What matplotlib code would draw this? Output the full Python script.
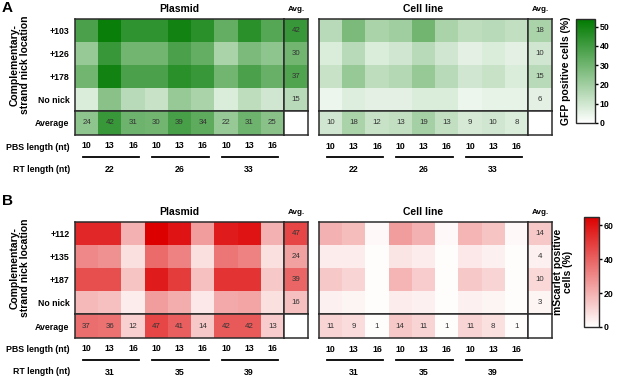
import numpy as np
import matplotlib
matplotlib.use("Agg")
import matplotlib.pyplot as plt
from matplotlib.colors import LinearSegmentedColormap

plt.rcParams['font.family'] = ['Liberation Sans', 'DejaVu Sans']

# ---- data ----
pbs_lengths = ["10", "13", "16"] * 3

gfp_rows = ["+103", "+126", "+178", "No nick"]
gfp_rt = ["22", "26", "33"]
gfp_plasmid = [[38, 52, 44, 44, 50, 45, 33, 45, 36],
               [22, 42, 30, 30, 38, 33, 18, 28, 24],
               [30, 50, 38, 38, 45, 42, 30, 38, 32],
               [8, 25, 15, 12, 22, 18, 8, 14, 10]]
gfp_plasmid_row_avg = [42, 30, 37, 15]
gfp_plasmid_col_avg = [24, 42, 31, 30, 39, 34, 22, 31, 25]
gfp_cell = [[15, 28, 18, 20, 30, 18, 14, 15, 13],
            [8, 15, 8, 10, 15, 10, 6, 8, 6],
            [12, 22, 14, 16, 22, 15, 10, 12, 8],
            [4, 7, 6, 6, 8, 8, 4, 5, 5]]
gfp_cell_row_avg = [18, 10, 15, 6]
gfp_cell_col_avg = [10, 18, 12, 13, 19, 13, 9, 10, 8]

msc_rows = ["+112", "+135", "+187", "No nick"]
msc_rt = ["31", "35", "39"]
msc_plasmid = [[55, 55, 20, 65, 60, 25, 58, 60, 20],
               [30, 28, 8, 38, 32, 8, 35, 32, 8],
               [45, 45, 15, 58, 50, 16, 52, 52, 14],
               [18, 16, 5, 25, 21, 6, 22, 23, 8]]
msc_plasmid_row_avg = [47, 24, 39, 16]
msc_plasmid_col_avg = [37, 36, 12, 47, 41, 14, 42, 42, 13]
msc_cell = [[20, 17, 2, 25, 20, 2, 19, 15, 2],
            [5, 5, 1, 7, 5, 1, 6, 4, 1],
            [14, 11, 1, 19, 13, 1, 14, 11, 1],
            [4, 3, 1, 5, 4, 1, 4, 3, 1]]
msc_cell_row_avg = [14, 4, 10, 3]
msc_cell_col_avg = [11, 9, 1, 14, 11, 1, 11, 8, 1]

greens = LinearSegmentedColormap.from_list("g", ["#ffffff", "#007a00"])
reds = LinearSegmentedColormap.from_list("r", ["#ffffff", "#dc0000"])

W, H = 617, 377
fig = plt.figure(figsize=(W / 100, H / 100), dpi=100)
EDGE = "#2b2b2b"
TXT = "#333333"


def box(x0, y0, x1, y1):
    return fig.add_axes([x0 / W, 1 - y1 / H, (x1 - x0) / W, (y1 - y0) / H])


def frame(ax):
    for s in ax.spines.values():
        s.set_linewidth(1.1)
        s.set_color(EDGE)
    ax.tick_params(length=0, labelbottom=False, labelleft=False)


def heat(ax, vals, cmap, vmax, labels=False):
    arr = np.array(vals, dtype=float)
    m = ax.pcolormesh(arr, cmap=cmap, vmin=0, vmax=vmax)
    ax.set_xlim(0, arr.shape[1])
    ax.set_ylim(arr.shape[0], 0)
    frame(ax)
    if labels:
        for r in range(arr.shape[0]):
            for c in range(arr.shape[1]):
                ax.text(c + 0.5, r + 0.5, f"{int(arr[r, c])}", ha="center",
                        va="center", fontsize=5.7, color=TXT)
    return m


def block(x0, x1, top, main, row_avg, col_avg, cmap, vmax, rt, title,
          row_names=None):
    y_avg = top + 92
    y_bot = y_avg + 24
    ax = box(x0, top, x1, y_avg)
    m = heat(ax, main, cmap, vmax)
    ax.set_title(title, fontsize=7.5, fontweight="bold", pad=5)
    if row_names is not None:
        ax.set_yticks(np.arange(len(row_names)) + 0.5)
        ax.set_yticklabels(row_names, fontsize=6.3, fontweight="bold")
        ax.tick_params(labelleft=True, pad=4)

    axc = box(x1, top, x1 + 24, y_avg)
    heat(axc, [[v] for v in row_avg], cmap, vmax, labels=True)
    axc.set_title("Avg.", fontsize=5.8, fontweight="bold", pad=6)

    axr = box(x0, y_avg, x1, y_bot)
    heat(axr, [col_avg], cmap, vmax, labels=True)
    axr.set_xticks(np.arange(len(pbs_lengths)) + 0.5)
    axr.set_xticklabels(pbs_lengths, fontsize=6.3, fontweight="bold")
    axr.tick_params(labelbottom=True, pad=5)
    if row_names is not None:
        axr.set_yticks([0.5])
        axr.set_yticklabels(["Average"], fontsize=6.3, fontweight="bold")
        axr.tick_params(labelleft=True, pad=4)
    tr = axr.get_xaxis_transform()
    for g, lab in enumerate(rt):
        axr.plot([3 * g + 0.33, 3 * g + 2.76], [-0.93, -0.93], transform=tr,
                 clip_on=False, color="black", lw=1.3)
        axr.text(3 * g + 1.5, -1.42, lab, transform=tr, ha="center",
                 va="center", fontsize=6.3, fontweight="bold")

    axe = box(x1, y_avg, x1 + 24, y_bot)
    frame(axe)
    return m


def panel(letter, letter_y, top, rows, rt, plas, plas_r, plas_c, cell,
          cell_r, cell_c, cmap, vmax, cbar_box, cbar_ticks, cbar_label,
          label_x):
    m = block(75, 284, top, plas, plas_r, plas_c, cmap, vmax, rt, "Plasmid",
              row_names=rows)
    block(319, 528, top, cell, cell_r, cell_c, cmap, vmax, rt, "Cell line")

    fig.text(2 / W, 1 - letter_y / H, letter, fontsize=11,
             fontweight="bold", va="top", ha="left")
    fig.text(20 / W, 1 - (top + 46) / H,
             "Complementary-\nstrand nick location", rotation=90,
             fontsize=7.5, fontweight="bold", ha="center", va="center",
             linespacing=1.0)
    fig.text(70 / W, 1 - (top + 128) / H, "PBS length (nt)", fontsize=6.3,
             fontweight="bold", ha="right", va="center")
    fig.text(70 / W, 1 - (top + 150) / H, "RT length (nt)", fontsize=6.3,
             fontweight="bold", ha="right", va="center")

    cax = box(*cbar_box)
    cb = fig.colorbar(m, cax=cax, ticks=cbar_ticks)
    cb.outline.set_linewidth(1.0)
    cb.outline.set_edgecolor(EDGE)
    cax.tick_params(labelsize=6.3, width=1, length=2.5, pad=1)
    for t in cax.get_yticklabels():
        t.set_fontweight("bold")
    fig.text(label_x / W, 1 - (cbar_box[1] + cbar_box[3]) / 2 / H,
             cbar_label, rotation=90, fontsize=7.5, fontweight="bold",
             ha="center", va="center", linespacing=1.0)


panel("A", 1, 19, gfp_rows, gfp_rt, gfp_plasmid, gfp_plasmid_row_avg,
      gfp_plasmid_col_avg, gfp_cell, gfp_cell_row_avg, gfp_cell_col_avg,
      greens, 54, (576, 19, 595, 123), [0, 10, 20, 30, 40, 50],
      "GFP positive cells (%)", 566)
panel("B", 194, 222, msc_rows, msc_rt, msc_plasmid, msc_plasmid_row_avg,
      msc_plasmid_col_avg, msc_cell, msc_cell_row_avg, msc_cell_col_avg,
      reds, 65, (584, 217, 599, 327), [0, 20, 40, 60],
      "mScarlet positive\ncells (%)", 563)

fig.savefig("out.png", dpi=100)
